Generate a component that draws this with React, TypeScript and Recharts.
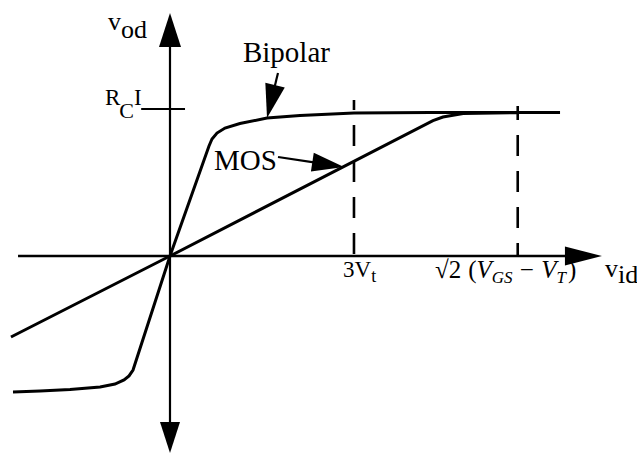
import React from 'react';
import { LineChart, Line, XAxis, YAxis, ReferenceLine, ReferenceDot } from 'recharts';

// x in units of the thermal voltage V_t, y in units of R_C·I
const X_DOMAIN: [number, number] = [-2.772, 7.615];
const Y_DOMAIN: [number, number] = [-1.382, 1.778];

// Bipolar (tanh-like) transfer curve
const bipolarX = [-2.56, -2.12, -1.63, -1.14, -0.897, -0.75, -0.668, -0.603, 0, 0.636, 0.685, 0.766, 0.897, 1.14, 1.582, 2.12, 3.0, 4.24, 6.36];
const bipolarY = [-0.944, -0.9375, -0.927, -0.91, -0.889, -0.861, -0.833, -0.792, 0, 0.764, 0.8125, 0.854, 0.889, 0.92, 0.958, 0.976, 0.993, 0.997, 0.997];

// MOS transfer curve (linear, then saturating)
const mosX = [-2.593, 0, 4.288, 4.45, 4.78, 5.67];
const mosY = [-0.5625, 0, 0.94, 0.965, 0.99, 0.995];

// Marked input levels: 3·V_t and sqrt(2)(V_GS - V_T)
const markX = [3.0, 5.67];
const markTop = [1.083, 1.042];
const markOffset = [11, 7];
const saturationLevel = 1.021; // R_C·I tick

const bipolar = bipolarX.map((x, i) => ({ x, b: bipolarY[i] }));
const mos = mosX.map((x, i) => ({ x, m: mosY[i] }));

const FONT = "'Liberation Serif', 'Times New Roman', serif";

type ArrowOpts = { start?: [number, number]; end?: [number, number]; width: number };

const arrowShape = (opts: ArrowOpts) => (props: any) => {
  const { x1, y1, x2, y2 } = props;
  const dx = x2 - x1;
  const dy = y2 - y1;
  const len = Math.sqrt(dx * dx + dy * dy) || 1;
  const ux = dx / len;
  const uy = dy / len;
  const px = -uy;
  const py = ux;
  const head = (tx: number, ty: number, dir: number, hl: number, hw: number) => {
    const bx = tx - dir * ux * hl;
    const by = ty - dir * uy * hl;
    return `${tx},${ty} ${bx + px * hw},${by + py * hw} ${bx - px * hw},${by - py * hw}`;
  };
  const sx = opts.start ? x1 + ux * opts.start[0] * 0.9 : x1;
  const sy = opts.start ? y1 + uy * opts.start[0] * 0.9 : y1;
  const ex = opts.end ? x2 - ux * opts.end[0] * 0.9 : x2;
  const ey = opts.end ? y2 - uy * opts.end[0] * 0.9 : y2;
  return (
    <g>
      <line x1={sx} y1={sy} x2={ex} y2={ey} stroke="#000" strokeWidth={opts.width} />
      {opts.start && <polygon points={head(x1, y1, -1, opts.start[0], opts.start[1])} fill="#000" />}
      {opts.end && <polygon points={head(x2, y2, 1, opts.end[0], opts.end[1])} fill="#000" />}
    </g>
  );
};

const dashedShape = (offset: number) => (props: any) => (
  <line
    x1={props.x1}
    y1={props.y1}
    x2={props.x2}
    y2={props.y2}
    stroke="#000"
    strokeWidth={2.6}
    strokeDasharray="21 15"
    strokeDashoffset={offset}
  />
);

const plainShape = (w: number) => (props: any) => (
  <line x1={props.x1} y1={props.y1} x2={props.x2} y2={props.y2} stroke="#000" strokeWidth={w} />
);

const textShape = (content: React.ReactNode, size: number) => (props: any) => (
  <text x={props.cx} y={props.cy} fontFamily={FONT} fontSize={size} fill="#000">
    {content}
  </text>
);

export default function App() {
  return (
    <div style={{ position: 'absolute', left: 0, top: 0, background: '#fff' }}>
      <LineChart width={637} height={455} margin={{ top: 0, right: 0, bottom: 0, left: 0 }}>
        <XAxis type="number" dataKey="x" domain={X_DOMAIN} hide allowDataOverflow />
        <YAxis type="number" domain={Y_DOMAIN} hide allowDataOverflow />

        {/* axes */}
        <ReferenceLine
          segment={[{ x: 0, y: 1.6875 }, { x: 0, y: -1.368 }]}
          shape={arrowShape({ start: [34, 11], end: [31, 10], width: 2.2 })}
        />
        <ReferenceLine
          segment={[{ x: -2.478, y: 0 }, { x: 7.043, y: 0 }]}
          shape={arrowShape({ end: [37, 9.5], width: 2.6 })}
        />
        <ReferenceLine
          segment={[{ x: -0.47, y: saturationLevel }, { x: 0.245, y: saturationLevel }]}
          shape={plainShape(2)}
        />

        {/* dashed markers */}
        {markX.map((x, i) => (
          <ReferenceLine
            key={`m${i}`}
            segment={[{ x, y: markTop[i] }, { x, y: 0 }]}
            shape={dashedShape(markOffset[i])}
          />
        ))}

        <Line data={bipolar} dataKey="b" type="linear" stroke="#000" strokeWidth={3} dot={false} activeDot={false} isAnimationActive={false} />
        <Line data={mos} dataKey="m" type="linear" stroke="#000" strokeWidth={3} dot={false} activeDot={false} isAnimationActive={false} />

        {/* label arrows */}
        <ReferenceLine
          segment={[{ x: 1.761, y: 1.271 }, { x: 1.582, y: 0.958 }]}
          shape={arrowShape({ end: [34, 10], width: 2.2 })}
        />
        <ReferenceLine
          segment={[{ x: 1.761, y: 0.6875 }, { x: 2.837, y: 0.618 }]}
          shape={arrowShape({ end: [32, 9.5], width: 2.2 })}
        />

        {/* texts */}
        <ReferenceDot
          x={-1.011}
          y={1.569}
          shape={textShape(
            <>
              <tspan>v</tspan>
              <tspan dy={8}>od</tspan>
            </>,
            26
          )}
        />
        <ReferenceDot
          x={-1.06}
          y={1.049}
          shape={textShape(
            <>
              <tspan>R</tspan>
              <tspan dx={-1} dy={13} fontSize={22}>C</tspan>
              <tspan dx={0} dy={-13}>I</tspan>
            </>,
            23
          )}
        />
        <ReferenceDot x={1.19} y={1.347} shape={textShape('Bipolar', 29)} />
        <ReferenceDot x={0.717} y={0.597} shape={textShape('MOS', 29)} />
        <ReferenceDot
          x={2.821}
          y={-0.146}
          shape={textShape(
            <>
              <tspan>3V</tspan>
              <tspan dy={5} fontSize={18}>t</tspan>
            </>,
            23
          )}
        />
        <ReferenceDot
          x={4.321}
          y={-0.153}
          shape={textShape(
            <>
              <tspan>√2</tspan>
              <tspan dx={7}>(</tspan>
              <tspan fontStyle="italic">V</tspan>
              <tspan fontStyle="italic" fontSize={17} dy={5}>GS</tspan>
              <tspan dx={1} dy={-5}> − </tspan>
              <tspan dx={1} fontStyle="italic">V</tspan>
              <tspan fontStyle="italic" fontSize={17} dy={5}>T</tspan>
              <tspan dx={2} dy={-5}>)</tspan>
            </>,
            25
          )}
        />
        <ReferenceDot
          x={7.092}
          y={-0.146}
          shape={textShape(
            <>
              <tspan>v</tspan>
              <tspan dy={6}>id</tspan>
            </>,
            26
          )}
        />
      </LineChart>
    </div>
  );
}
